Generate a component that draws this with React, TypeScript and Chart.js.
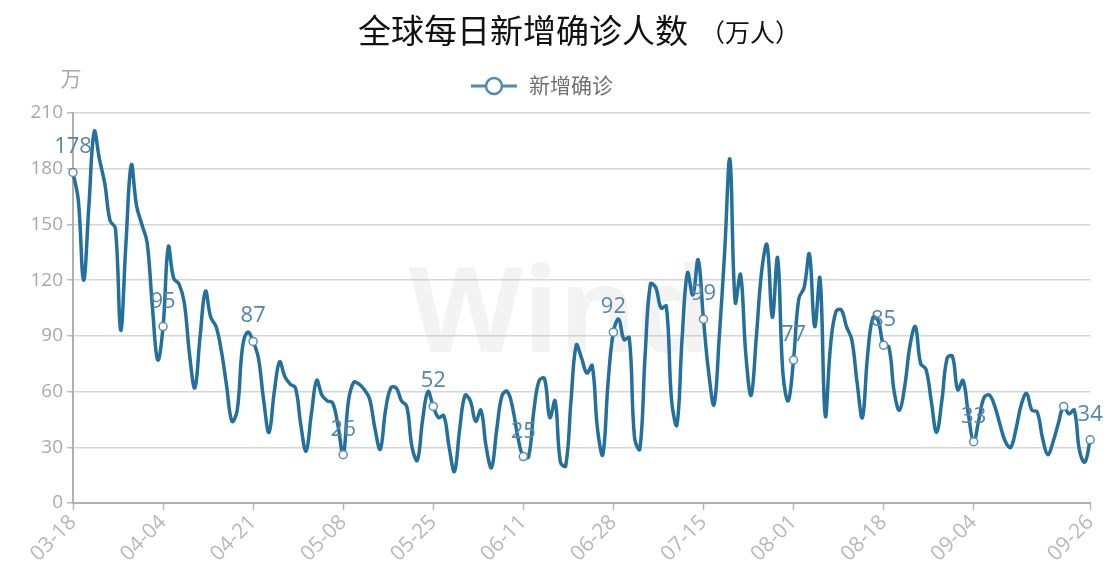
import React, { useEffect, useRef } from "react";
import { Chart, registerables } from "chart.js";

Chart.register(...registerables);

// ---- data ----
const startMonth = 3;
const startDay = 18;
const dayCount = 193;
const monthDays = [31, 29, 31, 30, 31, 30, 31, 31, 30, 31, 30, 31];

function buildDates(): string[] {
  const out: string[] = [];
  let m = startMonth;
  let d = startDay;
  for (let i = 0; i < dayCount; i++) {
    out.push(String(m).padStart(2, "0") + "-" + String(d).padStart(2, "0"));
    d++;
    if (d > monthDays[m - 1]) {
      d = 1;
      m++;
    }
  }
  return out;
}
const dates: string[] = buildDates();

const newCases: number[] = [
  178, 163, 120, 160, 200, 185, 172, 152, 148, 93,
  140, 182, 160, 150, 140, 105, 77, 95, 138, 121,
  118, 108, 80, 62, 90, 114, 100, 95, 82, 63,
  44, 50, 84, 92, 87, 78, 55, 38, 60, 76,
  68, 64, 62, 42, 28, 48, 66, 58, 55, 54,
  42, 26, 55, 65, 64, 61, 56, 40, 29, 50,
  62, 62, 55, 52, 30, 23, 45, 60, 52, 46,
  47, 30, 17, 40, 58, 55, 44, 50, 30, 19,
  40, 58, 60, 51, 35, 25, 25, 50, 66, 67,
  46, 55, 22, 20, 55, 85, 78, 70, 74, 40,
  26, 65, 92, 99, 88, 89, 35, 29, 80, 118,
  116, 105, 106, 55, 42, 90, 124, 112, 131, 99,
  70, 53, 90, 135, 185, 108, 123, 80, 58, 90,
  125, 139, 100, 132, 70, 55, 77, 110, 116, 134,
  95, 121, 47, 85, 103, 104, 95, 88, 65, 46,
  80, 100, 98, 85, 84, 60, 50, 63, 85, 95,
  75, 72, 55, 38, 55, 78, 79, 61, 66, 48,
  33, 45, 57, 58, 52, 42, 33, 30, 40, 53,
  59, 50, 49, 35, 26, 33, 43, 52, 48, 50,
  28, 22, 34,
];

const tickIndices: number[] = [0, 17, 34, 51, 68, 85, 102, 119, 136, 153, 170, 192];
const labelIndices: number[] = [0, 17, 34, 51, 68, 85, 102, 119, 136, 153, 170, 192];
const markerIndices: number[] = [0, 17, 34, 51, 68, 85, 102, 119, 136, 153, 170, 187, 192];
const displayLabels: Record<number, string> = { 0: "178", 51: "26", 68: "52", 85: "25", 153: "85", 170: "33", 192: "34" };
const yMin = 0;
const yMax = 210;
const yStep = 30;

const titleMain = "全球每日新增确诊人数";
const titleUnit = "（万人）";
const seriesName = "新增确诊";
const unitLabel = "万";

const LINE = "#23709c";
const LABEL = "#5585ad";
const GRAY = "#a8a8a8";
const CJK = "'Noto Sans CJK SC', 'Noto Sans', sans-serif";

export default function App() {
  const ref = useRef<HTMLCanvasElement | null>(null);

  useEffect(() => {
    if (!ref.current) return;

    const decor = {
      id: "decor",
      beforeDatasetsDraw(chart: any) {
        const ctx = chart.ctx;
        ctx.save();
        ctx.font = "bold 118px 'Open Sans', sans-serif";
        ctx.fillStyle = "rgba(190,190,190,0.18)";
        ctx.textAlign = "center";
        ctx.textBaseline = "middle";
        ctx.fillText("Wind", 560, 318);
        ctx.restore();
      },
      afterDatasetsDraw(chart: any) {
        const ctx = chart.ctx;
        const meta = chart.getDatasetMeta(0);
        ctx.save();
        ctx.font = "22px 'Open Sans', sans-serif";
        ctx.fillStyle = LABEL;
        ctx.textAlign = "center";
        ctx.textBaseline = "alphabetic";
        labelIndices.forEach((i) => {
          const p = meta.data[i];
          const txt = displayLabels[i] ?? String(newCases[i]);
          ctx.fillText(txt, p.x, p.y - 19);
        });
        ctx.restore();
      },
      afterDraw(chart: any) {
        const ctx = chart.ctx;
        ctx.save();
        // title
        ctx.fillStyle = "#111";
        ctx.textBaseline = "middle";
        ctx.textAlign = "left";
        ctx.font = "33px " + CJK;
        ctx.fillText(titleMain, 358, 30);
        ctx.font = "25px " + CJK;
        ctx.fillText(titleUnit, 700, 32);
        // unit
        ctx.fillStyle = GRAY;
        ctx.font = "21px " + CJK;
        ctx.textAlign = "center";
        ctx.fillText(unitLabel, 71, 78);
        // legend
        ctx.strokeStyle = "#4f8ab3";
        ctx.lineWidth = 3;
        ctx.beginPath();
        ctx.moveTo(471, 86);
        ctx.lineTo(517, 86);
        ctx.stroke();
        ctx.beginPath();
        ctx.arc(494, 86, 8, 0, Math.PI * 2);
        ctx.fillStyle = "#fff";
        ctx.fill();
        ctx.lineWidth = 2.5;
        ctx.stroke();
        ctx.fillStyle = "#707070";
        ctx.font = "21px " + CJK;
        ctx.textAlign = "left";
        ctx.fillText(seriesName, 529, 85);
        ctx.restore();
      },
    };

    const chart = new Chart(ref.current, {
      type: "line",
      data: {
        labels: dates,
        datasets: [
          {
            label: seriesName,
            data: newCases,
            borderColor: LINE,
            borderWidth: 3.5,
            tension: 0.4,
            fill: false,
            pointRadius: newCases.map((_, i) => (markerIndices.includes(i) ? 4 : 0)),
            pointBackgroundColor: "#fff",
            pointBorderColor: "#5a8cb3",
            pointBorderWidth: 1.5,
            pointHoverRadius: 0,
          },
        ],
      },
      options: {
        responsive: false,
        animation: false,
        layout: { padding: { top: 113, left: 0, right: 16, bottom: 0 } },
        plugins: {
          legend: { display: false },
          title: { display: false },
          tooltip: { enabled: false },
        },
        scales: {
          x: {
            type: "category",
            offset: false,
            afterFit: (s: any) => {
              s.height = 65;
            },
            border: { display: true, color: "#b0b0b0", width: 2 },
            grid: {
              drawOnChartArea: false,
              drawTicks: true,
              tickLength: 7,
              tickColor: "#b8b8b8",
              tickWidth: 1.5,
            },
            ticks: {
              autoSkip: false,
              maxRotation: 45,
              minRotation: 45,
              padding: 0,
              color: "#b8b8b8",
              font: { size: 21, family: "'Open Sans', sans-serif" },
              callback: (_v: any, i: number) => (tickIndices.includes(i) ? dates[i] : null),
            },
          },
          y: {
            min: yMin,
            max: yMax,
            afterFit: (s: any) => {
              s.width = 73;
            },
            border: { display: true, color: "#b0b0b0", width: 2 },
            grid: {
              color: "#d6d6d6",
              lineWidth: 1.5,
              drawTicks: true,
              tickLength: 6,
              tickColor: "#b8b8b8",
            },
            ticks: {
              stepSize: yStep,
              padding: 4,
              color: GRAY,
              font: { size: 19, family: "'Open Sans', sans-serif" },
            },
          },
        },
      },
      plugins: [decor],
    } as any);

    return () => chart.destroy();
  }, []);

  return (
    <div style={{ position: "fixed", left: 0, top: 0, width: 1108, height: 568, background: "#fff" }}>
      <canvas ref={ref} width={1108} height={568} style={{ display: "block" }} />
    </div>
  );
}
